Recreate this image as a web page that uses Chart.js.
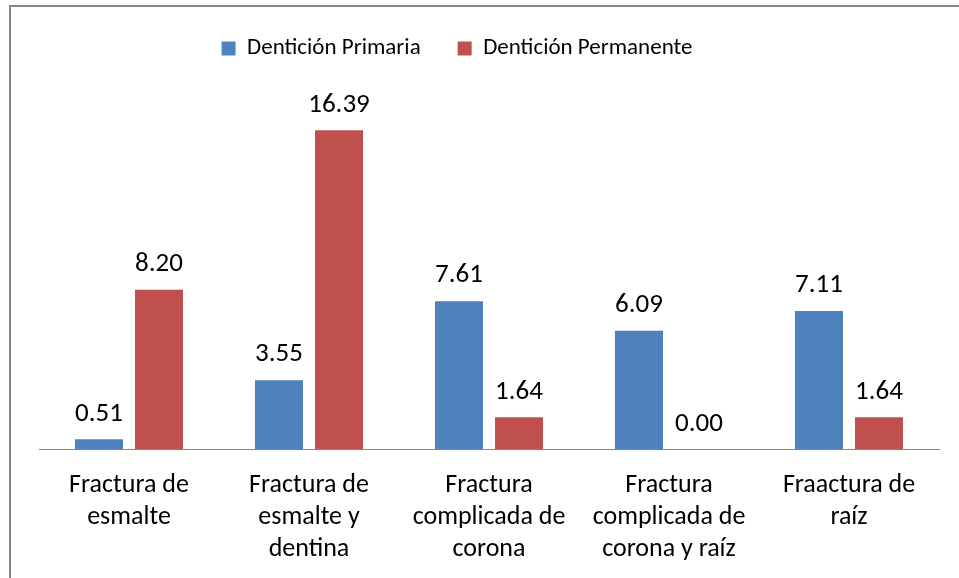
<!DOCTYPE html>
<html>
<head>
<meta charset="utf-8">
<script src="https://cdn.jsdelivr.net/npm/chart.js@4"></script>
<style>
  html, body { margin: 0; padding: 0; background: #fff; overflow: hidden; }
  #wrap { position: relative; width: 959px; height: 578px; }
  #frame {
    position: absolute; left: 9px; top: 5px; right: -10px; bottom: -10px;
    border-top: 2px solid #878787; border-left: 2px solid #878787;
    pointer-events: none;
  }
  canvas { position: absolute; left: 0; top: 0; }
</style>
</head>
<body>
<div id="wrap">
  <canvas id="bar-chart" width="959" height="578"></canvas>
  <div id="frame"></div>
</div>
<script>
const categories = [
  ["Fractura de", "esmalte"],
  ["Fractura de", "esmalte y", "dentina"],
  ["Fractura", "complicada de", "corona"],
  ["Fractura", "complicada de", "corona y raíz"],
  ["Fraactura de", "raíz"],
];
const primaria = [0.51, 3.55, 7.61, 6.09, 7.11];
const permanente = [8.2, 16.39, 1.64, 0.0, 1.64];

const barChart = document.getElementById("bar-chart");
Chart.defaults.font.family = "Carlito, 'Open Sans', 'Noto Sans', sans-serif";
Chart.defaults.color = "#000";

// draws the value over each bar
const valueLabels = {
  id: "valueLabels",
  afterDatasetsDraw(chart) {
    const ctx = chart.ctx;
    ctx.save();
    ctx.font = "27px " + Chart.defaults.font.family;
    ctx.fillStyle = "#000";
    ctx.textAlign = "center";
    ctx.textBaseline = "bottom";
    chart.data.datasets.forEach((ds, i) => {
      chart.getDatasetMeta(i).data.forEach((bar, j) => {
        ctx.fillText(ds.data[j].toFixed(2), bar.x, bar.y - 12);
      });
    });
    ctx.restore();
  },
};

// extra room under the legend, and move it a bit to the left
const legendGap = {
  id: "legendGap",
  beforeInit(chart) {
    const fit = chart.legend.fit;
    chart.legend.fit = function () {
      fit.bind(chart.legend)();
      this.height += 29;
    };
  },
  afterUpdate(chart) {
    chart.legend.left -= 32;
    chart.legend.right -= 32;
  },
};

const dentitionChart = new Chart(barChart, {
  type: "bar",
  data: {
    labels: categories,
    datasets: [
      {
        label: "Dentición Primaria",
        data: primaria,
        backgroundColor: "#4F81BD",
        barPercentage: 0.8,
        categoryPercentage: 0.667,
      },
      {
        label: "Dentición Permanente",
        data: permanente,
        backgroundColor: "#C0504D",
        barPercentage: 0.8,
        categoryPercentage: 0.667,
      },
    ],
  },
  options: {
    responsive: false,
    animation: false,
    layout: {
      padding: { left: 39, right: 20, top: 0, bottom: 0 },
    },
    scales: {
      x: {
        grid: { display: false },
        border: { color: "#878787", width: 1 },
        ticks: {
          font: { size: 26, lineHeight: 1.24 },
          maxRotation: 0,
          autoSkip: false,
          padding: 12,
        },
      },
      y: {
        display: false,
        min: 0,
        max: 18,
      },
    },
    plugins: {
      legend: {
        display: true,
        position: "top",
        labels: {
          boxWidth: 14,
          boxHeight: 14,
          padding: 37,
          font: { size: 23 },
        },
      },
      tooltip: { enabled: false },
    },
  },
  plugins: [valueLabels, legendGap],
});
</script>
</body>
</html>
